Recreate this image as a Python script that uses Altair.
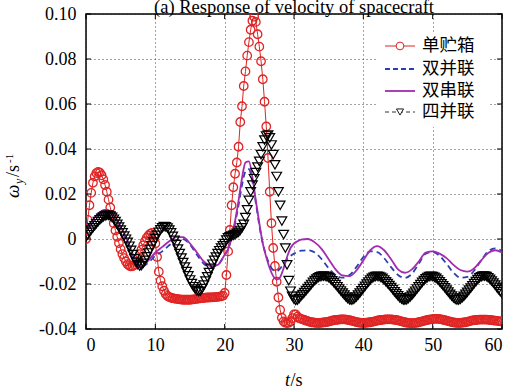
import altair as alt
import pandas as pd

# ---------------- data ----------------
# sample times of the marker series (every 0.25 s)
T_MARK = [i * 0.25 for i in range(241)]

# 单贮箱 (red circles)
RED = [
    # 0 - 19.75
    0.0000, 0.0085, 0.0150, 0.0205, 0.0250, 0.0278, 0.0293, 0.0298, 0.0295, 0.0283,
    0.0265, 0.0240, 0.0210, 0.0175, 0.0140, 0.0105, 0.0070, 0.0038, 0.0010, -0.0018,
    -0.0045, -0.0067, -0.0085, -0.0100, -0.0112, -0.0119, -0.0122, -0.0120, -0.0115, -0.0102,
    -0.0085, -0.0067, -0.0048, -0.0028, -0.0010, 0.0005, 0.0015, 0.0023, 0.0027, 0.0018,
    -0.0020, -0.0080, -0.0145, -0.0185, -0.0210, -0.0230, -0.0245, -0.0253, -0.0258, -0.0261,
    -0.0263, -0.0265, -0.0266, -0.0267, -0.0268, -0.0269, -0.0270, -0.0270, -0.0270, -0.0270,
    -0.0270, -0.0269, -0.0268, -0.0267, -0.0266, -0.0265, -0.0264, -0.0263, -0.0262, -0.0261,
    -0.0260, -0.0260, -0.0259, -0.0259, -0.0258, -0.0258, -0.0257, -0.0256, -0.0255, -0.0252,
    # 20.0 - 30.75
    -0.0240, -0.0160, -0.0055, 0.0040, 0.0150, 0.0230, 0.0290, 0.0340, 0.0410, 0.0520,
    0.0590, 0.0680, 0.0745, 0.0815, 0.0875, 0.0930, 0.0970, 0.0988, 0.0965, 0.0910,
    0.0855, 0.0790, 0.0710, 0.0610, 0.0500, 0.0360, 0.0210, 0.0070, -0.0040, -0.0120,
    -0.0190, -0.0260, -0.0315, -0.0350, -0.0366, -0.0372, -0.0374, -0.0372, -0.0366, -0.0352,
    -0.0335, -0.0335, -0.0345, -0.0352,
    # 31.0 - 60.0
    -0.0355, -0.0357, -0.0360, -0.0363, -0.0365, -0.0368, -0.0370, -0.0371, -0.0372, -0.0373,
    -0.0373, -0.0373, -0.0372, -0.0371, -0.0370, -0.0369, -0.0367, -0.0365, -0.0363, -0.0361,
    -0.0360, -0.0359, -0.0358, -0.0357, -0.0357, -0.0357, -0.0358, -0.0359, -0.0361, -0.0363,
    -0.0365, -0.0367, -0.0369, -0.0371, -0.0372, -0.0373, -0.0373, -0.0373, -0.0372, -0.0371,
    -0.0370, -0.0368, -0.0367, -0.0365, -0.0363, -0.0361, -0.0360, -0.0359, -0.0358, -0.0357,
    -0.0357, -0.0357, -0.0357, -0.0358, -0.0359, -0.0360, -0.0362, -0.0364, -0.0366, -0.0368,
    -0.0370, -0.0372, -0.0373, -0.0374, -0.0374, -0.0374, -0.0373, -0.0372, -0.0370, -0.0368,
    -0.0366, -0.0364, -0.0362, -0.0360, -0.0358, -0.0357, -0.0356, -0.0355, -0.0355, -0.0355,
    -0.0356, -0.0357, -0.0359, -0.0361, -0.0363, -0.0365, -0.0367, -0.0369, -0.0371, -0.0372,
    -0.0373, -0.0373, -0.0373, -0.0372, -0.0371, -0.0370, -0.0368, -0.0366, -0.0364, -0.0362,
    -0.0361, -0.0360, -0.0359, -0.0358, -0.0358, -0.0358, -0.0358, -0.0358, -0.0359, -0.0360,
    -0.0361, -0.0362, -0.0363, -0.0364, -0.0365, -0.0366, -0.0366,
]

# 四并联 (black triangles)
BLACK = [
    # 0 - 19.75
    0.0008, 0.0019, 0.0030, 0.0040, 0.0050, 0.0059, 0.0068, 0.0077, 0.0085, 0.0092,
    0.0098, 0.0102, 0.0105, 0.0105, 0.0102, 0.0096, 0.0088, 0.0077, 0.0065, 0.0053,
    0.0040, 0.0027, 0.0013, -0.0001, -0.0015, -0.0032, -0.0050, -0.0069, -0.0088, -0.0104,
    -0.0115, -0.0120, -0.0118, -0.0108, -0.0095, -0.0079, -0.0062, -0.0046, -0.0030, -0.0014,
    0.0002, 0.0016, 0.0030, 0.0041, 0.0050, 0.0055, 0.0054, 0.0049, 0.0040, 0.0027,
    0.0012, -0.0006, -0.0025, -0.0045, -0.0065, -0.0085, -0.0105, -0.0125, -0.0145, -0.0164,
    -0.0182, -0.0198, -0.0212, -0.0223, -0.0230, -0.0234, -0.0232, -0.0220, -0.0205, -0.0187,
    -0.0168, -0.0149, -0.0130, -0.0112, -0.0095, -0.0080, -0.0065, -0.0052, -0.0040, -0.0030,
    # 20.0 - 30.75
    -0.0020, -0.0005, 0.0005, 0.0010, 0.0013, 0.0016, 0.0020, 0.0025, 0.0030, 0.0038,
    0.0050, 0.0065, 0.0095, 0.0130, 0.0172, 0.0210, 0.0240, 0.0268, 0.0295, 0.0320,
    0.0345, 0.0375, 0.0410, 0.0440, 0.0458, 0.0462, 0.0450, 0.0418, 0.0375, 0.0330,
    0.0278, 0.0210, 0.0150, 0.0080, 0.0020, -0.0040, -0.0115, -0.0185, -0.0232, -0.0255,
    -0.0268, -0.0273, -0.0272, -0.0265,
    # 31.0 - 60.0
    -0.0255, -0.0247, -0.0238, -0.0229, -0.0220, -0.0211, -0.0202, -0.0193, -0.0185, -0.0178,
    -0.0172, -0.0168, -0.0166, -0.0165, -0.0166, -0.0168, -0.0172, -0.0178, -0.0186, -0.0194,
    -0.0203, -0.0212, -0.0222, -0.0231, -0.0240, -0.0249, -0.0258, -0.0265, -0.0270, -0.0272,
    -0.0270, -0.0265, -0.0258, -0.0249, -0.0240, -0.0230, -0.0220, -0.0210, -0.0200, -0.0191,
    -0.0182, -0.0175, -0.0170, -0.0167, -0.0166, -0.0167, -0.0170, -0.0175, -0.0182, -0.0190,
    -0.0198, -0.0207, -0.0216, -0.0225, -0.0235, -0.0244, -0.0253, -0.0261, -0.0267, -0.0271,
    -0.0272, -0.0270, -0.0265, -0.0258, -0.0250, -0.0241, -0.0232, -0.0222, -0.0213, -0.0203,
    -0.0193, -0.0185, -0.0177, -0.0171, -0.0167, -0.0166, -0.0167, -0.0170, -0.0175, -0.0182,
    -0.0190, -0.0199, -0.0208, -0.0217, -0.0227, -0.0236, -0.0246, -0.0254, -0.0262, -0.0268,
    -0.0271, -0.0271, -0.0268, -0.0262, -0.0255, -0.0246, -0.0237, -0.0227, -0.0218, -0.0208,
    -0.0198, -0.0189, -0.0180, -0.0173, -0.0168, -0.0165, -0.0165, -0.0167, -0.0172, -0.0179,
    -0.0187, -0.0196, -0.0205, -0.0215, -0.0225, -0.0234, -0.0243,
]

# sample times of the plain line series
T_LINE = list(range(0, 20)) + [20 + 0.5 * i for i in range(22)] + list(range(31, 61))

# 双并联 (blue dashed)
BLUE = [
    0.0030, 0.0080, 0.0115, 0.0125, 0.0100, 0.0050, -0.0015, -0.0090, -0.0125, -0.0105,
    -0.0075, -0.0055, -0.0028, -0.0005, 0.0000, -0.0025, -0.0070, -0.0110, -0.0125, -0.0115,
    -0.0070, -0.0045, 0.0005, 0.0070, 0.0150, 0.0240, 0.0300, 0.0310, 0.0255, 0.0160,
    0.0060, -0.0020, -0.0075, -0.0115, -0.0138, -0.0143, -0.0132, -0.0110, -0.0090, -0.0075,
    -0.0065, -0.0058,
    -0.0052, -0.0050, -0.0060, -0.0090, -0.0130, -0.0160, -0.0172, -0.0160, -0.0125, -0.0080,
    -0.0055, -0.0058, -0.0085, -0.0125, -0.0160, -0.0173, -0.0155, -0.0110, -0.0065, -0.0058,
    -0.0075, -0.0110, -0.0150, -0.0172, -0.0168, -0.0140, -0.0095, -0.0055, -0.0042, -0.0052,
]

# 双串联 (purple solid)
PURPLE = [
    0.0030, 0.0085, 0.0120, 0.0130, 0.0105, 0.0055, -0.0010, -0.0085, -0.0125, -0.0095,
    -0.0060, -0.0035, -0.0010, 0.0008, 0.0008, -0.0020, -0.0060, -0.0100, -0.0120, -0.0115,
    -0.0070, -0.0045, 0.0010, 0.0080, 0.0170, 0.0270, 0.0340, 0.0345, 0.0275, 0.0170,
    0.0070, -0.0020, -0.0080, -0.0130, -0.0165, -0.0180, -0.0170, -0.0130, -0.0080, -0.0040,
    -0.0020, -0.0010,
    -0.0003, 0.0000, -0.0015, -0.0045, -0.0090, -0.0135, -0.0162, -0.0165, -0.0140, -0.0095,
    -0.0050, -0.0032, -0.0050, -0.0090, -0.0135, -0.0150, -0.0135, -0.0100, -0.0060, -0.0055,
    -0.0065, -0.0085, -0.0115, -0.0138, -0.0145, -0.0130, -0.0095, -0.0062, -0.0050, -0.0060,
]

X_TICKS = [0, 10, 20, 30, 40, 50, 60]
Y_TICKS = [-0.04, -0.02, 0.0, 0.02, 0.04, 0.06, 0.08, 0.10]
LEGEND_NAMES = ["单贮箱", "双并联", "双串联", "四并联"]
TITLE = "(a) Response of velocity of spacecraft"

assert len(T_MARK) == len(RED) == len(BLACK), (len(T_MARK), len(RED), len(BLACK))
assert len(T_LINE) == len(BLUE) == len(PURPLE)

marks_df = pd.DataFrame({"t": T_MARK, "red": RED, "black": BLACK})
lines_df = pd.DataFrame({"t": T_LINE, "blue": BLUE, "purple": PURPLE})
xt_df = pd.DataFrame({"v": X_TICKS})
yt_df = pd.DataFrame({"v": Y_TICKS})
one = pd.DataFrame({"a": [0]})

# ---------------- styles ----------------
W, H = 416, 315
SERIF = "Liberation Serif"
C_RED = "#e02424"
C_BLUE = "#2b3fb0"
C_PURPLE = "#a22cb0"
C_BLACK = "#000000"
RED_SIZE, TRI_SIZE = 72, 95

xs = alt.Scale(domain=[0, 60], nice=False, zero=False)
ys = alt.Scale(domain=[-0.04, 0.10], nice=False, zero=False)
xaxis = alt.Axis(values=X_TICKS, title=None, labelPadding=7, format="d")
yaxis = alt.Axis(
    values=Y_TICKS, title=None, labelPadding=10,
    labelExpr="abs(datum.value) < 1e-9 ? '0' : (datum.value < 0 ? '-' : '') + format(abs(datum.value), '.2f')",
)


def X(field):
    return alt.X(field, type="quantitative", scale=xs, axis=xaxis)


def Y(field):
    return alt.Y(field, type="quantitative", scale=ys, axis=yaxis)


red_line = alt.Chart(marks_df).mark_line(color=C_RED, strokeWidth=1, clip=True).encode(x=X("t"), y=Y("red"))
red_pts = alt.Chart(marks_df).mark_point(shape="circle", filled=False, color=C_RED, size=RED_SIZE,
                                         strokeWidth=1.3, opacity=1, clip=True).encode(x=X("t"), y=Y("red"))
blue_line = alt.Chart(lines_df).mark_line(color=C_BLUE, strokeWidth=1.8, strokeDash=[6, 4],
                                          interpolate="monotone", clip=True).encode(x=X("t"), y=Y("blue"))
purple_line = alt.Chart(lines_df).mark_line(color=C_PURPLE, strokeWidth=1.8,
                                            interpolate="monotone", clip=True).encode(x=X("t"), y=Y("purple"))
black_pts = alt.Chart(marks_df).mark_point(shape="triangle-down", filled=False, color=C_BLACK, size=TRI_SIZE,
                                           strokeWidth=1.2, opacity=1, clip=True).encode(x=X("t"), y=Y("black"))

# inward ticks (MATLAB style)
tick_style = dict(color="black", strokeWidth=1)
xt_bottom = alt.Chart(xt_df).mark_rule(**tick_style).encode(x=X("v"), y=alt.value(H), y2=alt.value(H - 5))
xt_top = alt.Chart(xt_df).mark_rule(**tick_style).encode(x=X("v"), y=alt.value(0), y2=alt.value(5))
yt_left = alt.Chart(yt_df).mark_rule(**tick_style).encode(y=Y("v"), x=alt.value(0), x2=alt.value(5))
yt_right = alt.Chart(yt_df).mark_rule(**tick_style).encode(y=Y("v"), x=alt.value(W), x2=alt.value(W - 5))

# title and axis titles as text
title = alt.Chart(one).mark_text(text=TITLE, font=SERIF, fontSize=18.5, align="center",
                                 baseline="alphabetic", color="black").encode(x=alt.value(W / 2), y=alt.value(-1.5))
xt_t = alt.Chart(one).mark_text(text="t", font=SERIF, fontSize=18, fontStyle="italic", align="left",
                                baseline="alphabetic", color="black").encode(x=alt.value(199), y=alt.value(372))
xt_s = alt.Chart(one).mark_text(text="/s", font=SERIF, fontSize=18, align="left",
                                baseline="alphabetic", color="black").encode(x=alt.value(204.5), y=alt.value(372))
yt_w = alt.Chart(one).mark_text(text="ω", font=SERIF, fontSize=19, fontStyle="italic", angle=270, align="left",
                                baseline="alphabetic", color="black").encode(x=alt.value(-67), y=alt.value(184))
yt_y = alt.Chart(one).mark_text(text="y", font=SERIF, fontSize=12, fontStyle="italic", angle=270, align="left",
                                baseline="alphabetic", color="black").encode(x=alt.value(-63), y=alt.value(170))
yt_s = alt.Chart(one).mark_text(text="/s", font=SERIF, fontSize=18, angle=270, align="left",
                                baseline="alphabetic", color="black").encode(x=alt.value(-67), y=alt.value(163))
yt_e = alt.Chart(one).mark_text(text="-1", font=SERIF, fontSize=11, angle=270, align="left",
                                baseline="alphabetic", color="black").encode(x=alt.value(-73), y=alt.value(149))

# legend
leg_bg = alt.Chart(one).mark_rect(fill="white").encode(
    x=alt.value(292), x2=alt.value(403), y=alt.value(19), y2=alt.value(113))
ROW_Y = [32, 55, 77, 98]
LX0, LX1, LXM, LXT = 299, 329, 314, 336
leg_layers = [leg_bg]
leg_styles = [
    dict(color=C_RED, strokeWidth=1),
    dict(color=C_BLUE, strokeWidth=1.8, strokeDash=[5, 3]),
    dict(color=C_PURPLE, strokeWidth=1.8),
    dict(color=C_BLACK, strokeWidth=0.8, strokeDash=[4, 3]),
]
for i, name in enumerate(LEGEND_NAMES):
    yv = ROW_Y[i]
    leg_layers.append(alt.Chart(one).mark_rule(**leg_styles[i]).encode(
        x=alt.value(LX0), x2=alt.value(LX1), y=alt.value(yv)))
    leg_layers.append(alt.Chart(pd.DataFrame({"n": [name]})).mark_text(
        font="Noto Sans CJK SC", fontSize=17.5, align="left", baseline="middle", color="black",
        lineHeight=17).encode(text="n:N", x=alt.value(LXT), y=alt.value(yv)))
leg_layers.append(alt.Chart(one).mark_point(shape="circle", color=C_RED, size=60, strokeWidth=1,
                                            fill="white", fillOpacity=1).encode(x=alt.value(LXM), y=alt.value(ROW_Y[0])))
leg_layers.append(alt.Chart(one).mark_point(shape="triangle-down", color=C_BLACK, size=50,
                                            strokeWidth=0.9, fill="white", fillOpacity=1).encode(
    x=alt.value(LXM), y=alt.value(ROW_Y[3])))

chart = alt.layer(
    red_line, red_pts, blue_line, purple_line, black_pts,
    xt_bottom, xt_top, yt_left, yt_right,
    *leg_layers,
    title, xt_t, xt_s, yt_w, yt_y, yt_s, yt_e,
).properties(
    width=W, height=H,
    padding={"left": 86, "top": 14, "right": 21, "bottom": 60},
    autosize=alt.AutoSizeParams(type="none"),
    background="white",
).configure_view(
    stroke="black", strokeWidth=1.5,
).configure_axis(
    labelFont=SERIF, labelFontSize=18, labelColor="black",
    grid=True, gridColor="#222222", gridDash=[1, 3], gridWidth=0.9, gridOpacity=0.9,
    domain=False, ticks=False, tickSize=0,
)

chart.save("out.html", embed_options={"renderer": "svg", "actions": False})
